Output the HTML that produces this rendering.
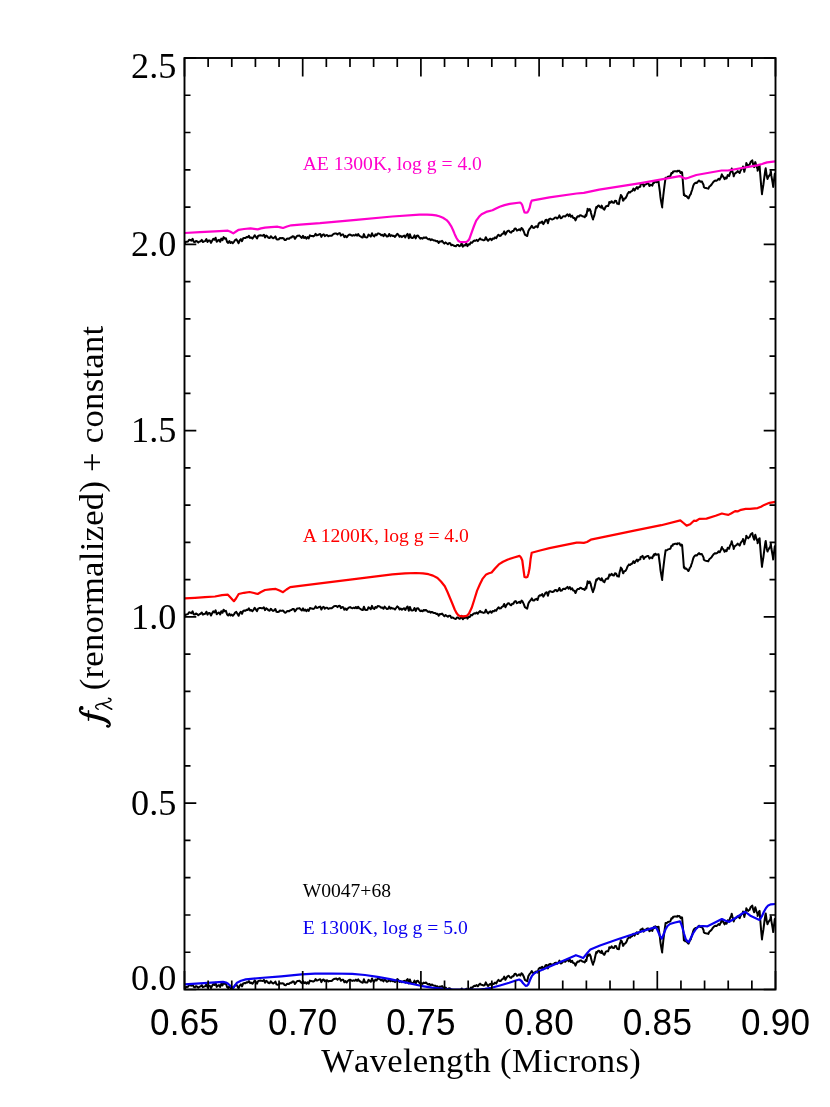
<!DOCTYPE html>
<html><head><meta charset="utf-8"><title>Spectra</title>
<style>
html,body{margin:0;padding:0;background:#fff;}
body{width:830px;height:1107px;overflow:hidden;font-family:"Liberation Serif",serif;}
svg{display:block;will-change:transform}
.sans{font-family:"Liberation Sans",sans-serif;font-size:35.1px;letter-spacing:0.3px;fill:#000}
.serif{font-family:"Liberation Serif",serif;fill:#000}
.big{font-size:36.2px}
.ttl{font-size:34.6px;font-kerning:none;letter-spacing:0.29px}
.lab{font-family:"Liberation Serif",serif;font-size:19.6px}
</style></head><body>
<svg width="830" height="1107" viewBox="0 0 830 1107">
<rect width="830" height="1107" fill="#fff"/>
<defs><clipPath id="c"><rect x="184.5" y="58.0" width="591.0" height="931.5"/></clipPath></defs>
<g clip-path="url(#c)" fill="none" stroke-linejoin="round" stroke-linecap="butt">
<path d="M184.5,244.4 L185.7,241.8 L186.8,241.8 L188.0,241.5 L189.1,239.7 L190.3,240.0 L191.4,240.6 L192.6,238.8 L193.7,241.7 L194.9,242.0 L196.0,240.9 L197.2,241.5 L198.3,242.6 L199.5,241.6 L200.6,241.2 L201.8,239.9 L202.9,242.0 L204.1,241.4 L205.2,241.1 L206.4,239.1 L207.5,242.0 L208.7,240.4 L209.8,240.5 L211.0,242.9 L212.1,240.7 L213.3,238.8 L214.4,239.8 L215.6,237.7 L216.7,241.7 L217.9,240.5 L219.0,239.9 L220.2,241.8 L221.3,238.6 L222.5,240.2 L223.6,237.1 L224.8,238.7 L225.9,238.3 L227.1,241.9 L228.2,242.9 L229.4,241.1 L230.5,242.9 L231.7,242.0 L232.8,243.2 L234.0,241.8 L235.1,240.0 L236.3,239.3 L237.4,241.1 L238.6,243.2 L239.7,240.5 L240.9,239.1 L242.0,241.2 L243.2,238.3 L244.3,237.9 L245.5,238.1 L246.6,237.1 L247.8,237.3 L248.9,235.8 L250.1,237.9 L251.2,237.4 L252.4,238.6 L253.5,237.2 L254.7,235.2 L255.8,236.8 L257.0,238.5 L258.1,236.0 L259.3,235.5 L260.4,235.3 L261.6,235.6 L262.7,235.7 L263.9,234.7 L265.0,237.5 L266.2,235.6 L267.3,236.4 L268.5,237.8 L269.6,238.1 L270.8,236.2 L271.9,237.4 L273.1,238.3 L274.2,237.7 L275.4,236.4 L276.5,239.2 L277.7,239.5 L278.8,239.2 L280.0,237.9 L281.1,238.3 L282.3,238.0 L283.4,238.2 L284.6,239.9 L285.7,240.1 L286.9,238.7 L288.0,238.5 L289.2,238.7 L290.3,237.6 L291.5,237.5 L292.6,236.3 L293.8,236.4 L294.9,238.8 L296.1,237.2 L297.2,235.8 L298.4,235.8 L299.5,235.5 L300.7,237.0 L301.8,237.9 L303.0,235.8 L304.1,238.0 L305.3,237.0 L306.4,238.6 L307.6,237.0 L308.7,238.4 L309.9,235.4 L311.0,235.9 L312.2,236.0 L313.3,236.4 L314.5,235.7 L315.6,233.8 L316.8,235.4 L317.9,235.0 L319.1,234.4 L320.2,234.0 L321.4,236.9 L322.5,234.8 L323.7,234.3 L324.8,236.1 L326.0,235.2 L327.1,235.1 L328.3,236.3 L329.4,235.7 L330.6,235.7 L331.7,235.7 L332.9,234.6 L334.0,233.7 L335.2,233.5 L336.3,233.4 L337.5,234.5 L338.6,233.4 L339.8,233.1 L340.9,235.6 L342.1,234.5 L343.2,234.6 L344.4,237.1 L345.5,235.9 L346.7,237.3 L347.8,235.8 L349.0,234.8 L350.1,234.5 L351.3,235.3 L352.4,235.7 L353.6,235.1 L354.7,235.6 L355.9,234.4 L357.0,235.7 L358.2,234.1 L359.3,235.8 L360.5,236.3 L361.6,237.2 L362.8,237.5 L363.9,234.1 L365.1,237.1 L366.2,237.4 L367.4,237.2 L368.5,234.6 L369.7,235.5 L370.8,236.6 L372.0,233.3 L373.1,235.7 L374.3,236.4 L375.4,234.4 L376.6,235.2 L377.7,233.4 L378.9,233.6 L380.0,234.1 L381.2,235.2 L382.3,234.8 L383.5,236.2 L384.6,234.0 L385.8,235.3 L386.9,236.5 L388.1,236.2 L389.2,234.0 L390.4,236.1 L391.5,235.2 L392.7,236.0 L393.8,235.8 L395.0,236.9 L396.1,235.4 L397.3,233.8 L398.4,234.7 L399.6,236.8 L400.7,235.9 L401.9,237.1 L403.0,236.2 L404.2,235.6 L405.3,237.4 L406.5,235.1 L407.6,233.9 L408.8,238.2 L409.9,234.3 L411.1,237.6 L412.2,238.0 L413.4,237.5 L414.5,235.4 L415.7,238.4 L416.8,235.8 L418.0,235.6 L419.1,237.1 L420.3,238.6 L421.4,238.0 L422.6,238.7 L423.7,237.4 L424.9,237.9 L426.0,237.3 L427.2,238.5 L428.3,239.3 L429.5,238.8 L430.6,240.1 L431.8,239.3 L432.9,239.9 L434.1,240.5 L435.2,240.5 L436.4,241.3 L437.5,241.1 L438.7,243.0 L439.8,241.4 L441.0,241.6 L442.1,240.9 L443.3,242.5 L444.4,243.6 L445.6,242.4 L446.7,243.3 L447.9,244.2 L449.0,243.1 L450.2,243.2 L451.3,245.3 L452.5,244.8 L453.6,245.5 L454.8,246.1 L455.9,246.3 L457.1,244.9 L458.2,245.0 L459.4,246.2 L460.5,245.7 L461.7,243.3 L462.8,246.7 L464.0,245.2 L465.1,245.5 L466.3,243.5 L467.4,246.1 L468.6,244.3 L469.7,244.4 L470.9,242.3 L472.0,242.8 L473.2,241.4 L474.3,240.6 L475.5,240.8 L476.6,239.9 L477.8,241.1 L478.9,239.6 L480.1,238.4 L481.2,239.6 L482.4,239.7 L483.5,240.3 L484.7,240.0 L485.8,237.2 L487.0,239.5 L488.1,240.8 L489.3,239.4 L490.4,238.7 L491.6,240.2 L492.7,238.4 L493.9,238.8 L495.0,237.4 L496.2,238.2 L497.3,236.2 L498.5,234.7 L499.6,235.9 L500.8,235.7 L501.9,234.2 L503.1,233.7 L504.2,231.4 L505.4,234.6 L506.5,232.5 L507.7,230.9 L508.8,230.6 L510.0,232.1 L511.1,232.7 L512.3,231.1 L513.4,231.1 L514.6,228.8 L515.7,228.5 L516.9,230.6 L518.0,230.1 L519.2,229.2 L520.3,230.4 L521.5,228.0 L522.6,229.0 L523.8,231.5 L524.9,234.6 L526.1,235.4 L527.2,236.0 L528.4,230.9 L529.5,229.0 L530.7,227.6 L531.8,225.8 L533.0,227.8 L534.1,227.9 L535.3,226.7 L536.4,226.2 L537.6,227.4 L538.7,223.6 L539.9,222.6 L541.0,222.8 L542.2,221.5 L543.3,224.1 L544.5,222.2 L545.6,220.0 L546.8,219.7 L547.9,223.2 L549.1,219.1 L550.2,218.6 L551.4,219.2 L552.5,219.4 L553.7,218.9 L554.8,217.7 L556.0,217.4 L557.1,218.6 L558.3,217.6 L559.4,215.4 L560.6,218.2 L561.7,218.0 L562.9,216.4 L564.0,216.1 L565.2,216.6 L566.3,215.3 L567.5,214.3 L568.6,216.1 L569.8,214.4 L570.9,216.8 L572.1,215.6 L573.2,217.9 L574.4,218.1 L575.5,220.4 L576.7,217.5 L577.8,216.3 L579.0,216.5 L580.1,215.2 L581.3,215.4 L582.4,216.3 L583.6,216.5 L584.7,217.3 L585.9,214.5 L586.3,215.7 L586.3,215.9 L587.4,210.0 L587.6,208.7 L588.6,210.6 L589.7,209.0 L590.8,211.4 L590.9,212.7 L592.0,216.5 L593.0,219.5 L593.2,218.5 L594.3,215.6 L595.5,210.1 L596.3,206.9 L596.6,208.0 L597.8,206.0 L598.9,205.5 L600.1,207.1 L601.2,207.7 L601.7,205.6 L602.4,207.2 L603.5,209.1 L604.4,209.6 L604.7,208.8 L605.8,206.5 L607.0,206.0 L608.1,206.1 L608.9,203.8 L609.3,202.0 L610.4,202.8 L611.6,201.2 L612.7,202.6 L613.9,202.9 L615.0,200.7 L616.2,201.0 L616.2,201.4 L617.3,203.7 L618.5,203.6 L618.9,204.1 L619.6,199.6 L620.7,196.0 L620.8,195.0 L621.9,196.3 L623.1,200.7 L623.4,200.5 L624.2,198.6 L625.4,198.4 L626.5,196.6 L627.7,193.5 L628.8,192.4 L628.8,191.9 L630.0,192.5 L631.1,191.4 L632.3,190.9 L633.4,188.6 L634.2,189.7 L634.6,190.4 L635.7,188.5 L636.9,187.0 L637.8,188.8 L638.0,187.9 L639.2,187.0 L640.3,186.7 L640.5,184.6 L641.5,184.2 L642.6,183.3 L643.8,186.4 L644.9,184.6 L646.1,184.2 L647.2,183.4 L648.4,183.4 L648.7,184.3 L649.5,186.0 L650.7,184.8 L651.8,185.0 L652.3,185.7 L653.0,183.6 L654.1,181.6 L654.1,183.0 L655.3,181.1 L656.4,182.2 L657.6,181.8 L658.6,181.6 L658.7,183.1 L659.9,191.9 L660.4,196.9 L661.0,200.8 L662.2,207.4 L662.2,206.0 L663.3,195.5 L664.0,189.7 L664.5,185.6 L665.6,177.7 L665.8,177.9 L666.8,177.7 L667.9,176.8 L669.1,176.5 L670.2,176.2 L670.4,176.1 L671.4,173.1 L672.5,173.2 L673.1,171.6 L673.7,171.7 L674.8,171.2 L676.0,171.2 L677.1,171.6 L677.6,170.7 L678.3,171.0 L679.4,170.7 L680.6,172.9 L681.7,172.0 L682.1,172.5 L682.9,181.9 L683.9,195.1 L684.0,193.8 L685.2,196.1 L686.3,196.0 L687.5,197.3 L688.4,198.4 L688.6,198.3 L689.8,195.4 L690.9,193.9 L691.2,192.4 L692.1,190.0 L693.2,185.9 L693.9,184.3 L694.4,183.7 L695.5,182.7 L696.7,183.0 L697.8,181.7 L699.0,180.5 L699.3,180.7 L700.1,181.7 L701.3,181.5 L702.0,181.6 L702.4,182.5 L703.6,185.0 L703.8,187.0 L704.7,187.8 L705.9,188.1 L707.0,188.3 L708.2,188.4 L708.3,188.8 L709.3,186.6 L710.5,185.7 L711.6,184.5 L712.8,182.7 L713.7,181.6 L713.9,181.4 L715.1,180.6 L716.2,180.8 L717.4,180.2 L718.5,178.8 L719.7,179.7 L720.0,178.9 L720.8,177.6 L721.9,174.4 L722.0,175.3 L723.1,176.5 L724.3,178.5 L724.6,179.2 L725.4,177.6 L726.6,178.5 L727.7,175.1 L728.9,175.9 L729.1,176.1 L730.0,173.1 L731.2,170.8 L731.7,168.6 L732.3,171.1 L733.5,174.7 L733.7,176.3 L734.6,173.8 L735.8,172.9 L736.9,172.1 L737.7,171.0 L738.1,171.4 L739.2,172.4 L739.7,173.0 L740.4,171.0 L741.5,169.1 L742.7,167.9 L743.0,166.4 L743.8,168.9 L744.3,171.7 L745.0,168.7 L746.1,165.2 L746.3,163.1 L747.3,164.9 L748.3,165.7 L748.4,165.1 L749.6,164.6 L750.7,161.8 L751.9,160.9 L752.3,160.4 L753.0,163.8 L754.2,167.1 L754.3,165.7 L755.3,162.1 L755.6,163.1 L756.5,166.4 L757.6,169.0 L757.6,170.7 L758.8,166.5 L759.6,165.7 L759.9,170.1 L761.1,184.9 L762.0,194.2 L762.2,192.0 L763.4,184.5 L764.5,175.8 L765.5,169.0 L765.7,168.3 L766.8,176.1 L767.5,179.0 L768.0,177.6 L769.1,175.8 L770.3,174.1 L770.8,171.0 L771.4,175.9 L772.6,182.6 L773.2,186.9 L773.7,182.8 L774.8,173.7 L774.9,174.1 L775.5,175.4" stroke="#000" stroke-width="2"/>
<path d="M184.5,617.0 L185.7,614.4 L186.8,614.4 L188.0,614.1 L189.1,612.3 L190.3,612.6 L191.4,613.2 L192.6,611.4 L193.7,614.3 L194.9,614.6 L196.0,613.5 L197.2,614.1 L198.3,615.2 L199.5,614.2 L200.6,613.8 L201.8,612.5 L202.9,614.6 L204.1,614.0 L205.2,613.7 L206.4,611.7 L207.5,614.6 L208.7,613.0 L209.8,613.1 L211.0,615.5 L212.1,613.3 L213.3,611.4 L214.4,612.4 L215.6,610.3 L216.7,614.3 L217.9,613.1 L219.0,612.5 L220.2,614.4 L221.3,611.2 L222.5,612.8 L223.6,609.7 L224.8,611.3 L225.9,610.9 L227.1,614.5 L228.2,615.5 L229.4,613.7 L230.5,615.5 L231.7,614.6 L232.8,615.8 L234.0,614.4 L235.1,612.6 L236.3,611.9 L237.4,613.7 L238.6,615.8 L239.7,613.1 L240.9,611.7 L242.0,613.8 L243.2,610.9 L244.3,610.5 L245.5,610.7 L246.6,609.7 L247.8,609.9 L248.9,608.4 L250.1,610.5 L251.2,610.0 L252.4,611.2 L253.5,609.8 L254.7,607.8 L255.8,609.4 L257.0,611.1 L258.1,608.6 L259.3,608.1 L260.4,607.9 L261.6,608.2 L262.7,608.3 L263.9,607.3 L265.0,610.1 L266.2,608.2 L267.3,609.0 L268.5,610.4 L269.6,610.7 L270.8,608.8 L271.9,610.0 L273.1,610.9 L274.2,610.3 L275.4,609.0 L276.5,611.8 L277.7,612.1 L278.8,611.8 L280.0,610.5 L281.1,610.9 L282.3,610.6 L283.4,610.8 L284.6,612.5 L285.7,612.7 L286.9,611.3 L288.0,611.1 L289.2,611.3 L290.3,610.2 L291.5,610.1 L292.6,608.9 L293.8,609.0 L294.9,611.4 L296.1,609.8 L297.2,608.4 L298.4,608.4 L299.5,608.1 L300.7,609.6 L301.8,610.5 L303.0,608.4 L304.1,610.6 L305.3,609.6 L306.4,611.2 L307.6,609.6 L308.7,611.0 L309.9,608.0 L311.0,608.5 L312.2,608.6 L313.3,609.0 L314.5,608.3 L315.6,606.4 L316.8,608.0 L317.9,607.6 L319.1,607.0 L320.2,606.6 L321.4,609.5 L322.5,607.4 L323.7,606.9 L324.8,608.7 L326.0,607.8 L327.1,607.7 L328.3,608.9 L329.4,608.3 L330.6,608.3 L331.7,608.3 L332.9,607.2 L334.0,606.3 L335.2,606.1 L336.3,606.0 L337.5,607.1 L338.6,606.0 L339.8,605.7 L340.9,608.2 L342.1,607.1 L343.2,607.2 L344.4,609.7 L345.5,608.5 L346.7,609.9 L347.8,608.4 L349.0,607.4 L350.1,607.1 L351.3,607.9 L352.4,608.3 L353.6,607.7 L354.7,608.2 L355.9,607.0 L357.0,608.3 L358.2,606.7 L359.3,608.4 L360.5,608.9 L361.6,609.8 L362.8,610.1 L363.9,606.7 L365.1,609.7 L366.2,610.0 L367.4,609.8 L368.5,607.2 L369.7,608.1 L370.8,609.2 L372.0,605.9 L373.1,608.3 L374.3,609.0 L375.4,607.0 L376.6,607.8 L377.7,606.0 L378.9,606.2 L380.0,606.7 L381.2,607.8 L382.3,607.4 L383.5,608.8 L384.6,606.6 L385.8,607.9 L386.9,609.1 L388.1,608.8 L389.2,606.6 L390.4,608.7 L391.5,607.8 L392.7,608.6 L393.8,608.4 L395.0,609.5 L396.1,608.0 L397.3,606.4 L398.4,607.3 L399.6,609.4 L400.7,608.5 L401.9,609.7 L403.0,608.8 L404.2,608.2 L405.3,610.0 L406.5,607.7 L407.6,606.5 L408.8,610.8 L409.9,606.9 L411.1,610.2 L412.2,610.6 L413.4,610.1 L414.5,608.0 L415.7,611.0 L416.8,608.4 L418.0,608.2 L419.1,609.7 L420.3,611.2 L421.4,610.6 L422.6,611.3 L423.7,610.0 L424.9,610.5 L426.0,609.9 L427.2,611.1 L428.3,611.9 L429.5,611.4 L430.6,612.7 L431.8,611.9 L432.9,612.5 L434.1,613.1 L435.2,613.1 L436.4,613.9 L437.5,613.7 L438.7,615.6 L439.8,614.0 L441.0,614.2 L442.1,613.5 L443.3,615.1 L444.4,616.2 L445.6,615.0 L446.7,615.9 L447.9,616.8 L449.0,615.7 L450.2,615.8 L451.3,617.9 L452.5,617.4 L453.6,618.1 L454.8,618.7 L455.9,618.9 L457.1,617.5 L458.2,617.6 L459.4,618.8 L460.5,618.3 L461.7,615.9 L462.8,619.3 L464.0,617.8 L465.1,618.1 L466.3,616.1 L467.4,618.7 L468.6,616.9 L469.7,617.0 L470.9,614.9 L472.0,615.4 L473.2,614.0 L474.3,613.2 L475.5,613.4 L476.6,612.5 L477.8,613.7 L478.9,612.2 L480.1,611.0 L481.2,612.2 L482.4,612.3 L483.5,612.9 L484.7,612.6 L485.8,609.8 L487.0,612.1 L488.1,613.4 L489.3,612.0 L490.4,611.3 L491.6,612.8 L492.7,611.0 L493.9,611.4 L495.0,610.0 L496.2,610.8 L497.3,608.8 L498.5,607.3 L499.6,608.5 L500.8,608.3 L501.9,606.8 L503.1,606.3 L504.2,604.0 L505.4,607.2 L506.5,605.1 L507.7,603.5 L508.8,603.2 L510.0,604.7 L511.1,605.3 L512.3,603.7 L513.4,603.7 L514.6,601.4 L515.7,601.1 L516.9,603.2 L518.0,602.7 L519.2,601.8 L520.3,603.0 L521.5,600.6 L522.6,601.6 L523.8,604.1 L524.9,607.2 L526.1,608.0 L527.2,608.6 L528.4,603.5 L529.5,601.6 L530.7,600.2 L531.8,598.4 L533.0,600.4 L534.1,600.5 L535.3,599.3 L536.4,598.8 L537.6,600.0 L538.7,596.2 L539.9,595.2 L541.0,595.4 L542.2,594.1 L543.3,596.7 L544.5,594.8 L545.6,592.6 L546.8,592.3 L547.9,595.8 L549.1,591.7 L550.2,591.2 L551.4,591.8 L552.5,592.0 L553.7,591.5 L554.8,590.3 L556.0,590.0 L557.1,591.2 L558.3,590.2 L559.4,588.0 L560.6,590.8 L561.7,590.6 L562.9,589.0 L564.0,588.7 L565.2,589.2 L566.3,587.9 L567.5,586.9 L568.6,588.7 L569.8,587.0 L570.9,589.4 L572.1,588.2 L573.2,590.5 L574.4,590.7 L575.5,593.0 L576.7,590.1 L577.8,588.9 L579.0,589.1 L580.1,587.8 L581.3,588.0 L582.4,588.9 L583.6,589.1 L584.7,589.9 L585.9,587.1 L586.3,588.3 L586.3,588.5 L587.4,582.6 L587.6,581.3 L588.6,583.2 L589.7,581.6 L590.8,584.0 L590.9,585.3 L592.0,589.1 L593.0,592.1 L593.2,591.1 L594.3,588.2 L595.5,582.7 L596.3,579.5 L596.6,580.6 L597.8,578.6 L598.9,578.1 L600.1,579.7 L601.2,580.3 L601.7,578.2 L602.4,579.8 L603.5,581.7 L604.4,582.2 L604.7,581.4 L605.8,579.1 L607.0,578.6 L608.1,578.7 L608.9,576.4 L609.3,574.6 L610.4,575.4 L611.6,573.8 L612.7,575.2 L613.9,575.5 L615.0,573.3 L616.2,573.6 L616.2,574.0 L617.3,576.3 L618.5,576.2 L618.9,576.7 L619.6,572.2 L620.7,568.6 L620.8,567.6 L621.9,568.9 L623.1,573.3 L623.4,573.1 L624.2,571.2 L625.4,571.0 L626.5,569.2 L627.7,566.1 L628.8,565.0 L628.8,564.5 L630.0,565.1 L631.1,564.0 L632.3,563.5 L633.4,561.2 L634.2,562.3 L634.6,563.0 L635.7,561.1 L636.9,559.6 L637.8,561.4 L638.0,560.5 L639.2,559.6 L640.3,559.3 L640.5,557.2 L641.5,556.8 L642.6,555.9 L643.8,559.0 L644.9,557.2 L646.1,556.8 L647.2,556.0 L648.4,556.0 L648.7,556.9 L649.5,558.6 L650.7,557.4 L651.8,557.6 L652.3,558.3 L653.0,556.2 L654.1,554.2 L654.1,555.6 L655.3,553.7 L656.4,554.8 L657.6,554.4 L658.6,554.2 L658.7,555.7 L659.9,564.5 L660.4,569.5 L661.0,573.4 L662.2,580.0 L662.2,578.6 L663.3,568.1 L664.0,562.3 L664.5,558.2 L665.6,550.3 L665.8,550.5 L666.8,550.3 L667.9,549.4 L669.1,549.1 L670.2,548.8 L670.4,548.7 L671.4,545.7 L672.5,545.8 L673.1,544.2 L673.7,544.3 L674.8,543.8 L676.0,543.8 L677.1,544.2 L677.6,543.3 L678.3,543.6 L679.4,543.3 L680.6,545.5 L681.7,544.6 L682.1,545.1 L682.9,554.5 L683.9,567.7 L684.0,566.4 L685.2,568.7 L686.3,568.6 L687.5,569.9 L688.4,571.0 L688.6,570.9 L689.8,568.0 L690.9,566.5 L691.2,565.0 L692.1,562.6 L693.2,558.5 L693.9,556.9 L694.4,556.3 L695.5,555.3 L696.7,555.6 L697.8,554.3 L699.0,553.1 L699.3,553.3 L700.1,554.3 L701.3,554.1 L702.0,554.2 L702.4,555.1 L703.6,557.6 L703.8,559.6 L704.7,560.4 L705.9,560.7 L707.0,560.9 L708.2,561.0 L708.3,561.4 L709.3,559.2 L710.5,558.3 L711.6,557.1 L712.8,555.3 L713.7,554.2 L713.9,554.0 L715.1,553.2 L716.2,553.4 L717.4,552.8 L718.5,551.4 L719.7,552.3 L720.0,551.5 L720.8,550.2 L721.9,547.0 L722.0,547.9 L723.1,549.1 L724.3,551.1 L724.6,551.8 L725.4,550.2 L726.6,551.1 L727.7,547.7 L728.9,548.5 L729.1,548.7 L730.0,545.7 L731.2,543.4 L731.7,541.2 L732.3,543.7 L733.5,547.3 L733.7,548.9 L734.6,546.4 L735.8,545.5 L736.9,544.7 L737.7,543.6 L738.1,544.0 L739.2,545.0 L739.7,545.6 L740.4,543.6 L741.5,541.7 L742.7,540.5 L743.0,539.0 L743.8,541.5 L744.3,544.3 L745.0,541.3 L746.1,537.8 L746.3,535.7 L747.3,537.5 L748.3,538.3 L748.4,537.7 L749.6,537.2 L750.7,534.4 L751.9,533.5 L752.3,533.0 L753.0,536.4 L754.2,539.7 L754.3,538.3 L755.3,534.7 L755.6,535.7 L756.5,539.0 L757.6,541.6 L757.6,543.3 L758.8,539.1 L759.6,538.3 L759.9,542.7 L761.1,557.5 L762.0,566.8 L762.2,564.6 L763.4,557.1 L764.5,548.4 L765.5,541.6 L765.7,540.9 L766.8,548.7 L767.5,551.6 L768.0,550.2 L769.1,548.4 L770.3,546.7 L770.8,543.6 L771.4,548.5 L772.6,555.2 L773.2,559.5 L773.7,555.4 L774.8,546.3 L774.9,546.7 L775.5,548.0" stroke="#000" stroke-width="2"/>
<path d="M184.5,989.6 L185.7,987.0 L186.8,987.0 L188.0,986.7 L189.1,984.9 L190.3,985.2 L191.4,985.8 L192.6,984.0 L193.7,986.9 L194.9,987.2 L196.0,986.1 L197.2,986.7 L198.3,987.8 L199.5,986.8 L200.6,986.4 L201.8,985.1 L202.9,987.2 L204.1,986.6 L205.2,986.3 L206.4,984.3 L207.5,987.2 L208.7,985.6 L209.8,985.7 L211.0,988.1 L212.1,985.9 L213.3,984.0 L214.4,985.0 L215.6,982.9 L216.7,986.9 L217.9,985.7 L219.0,985.1 L220.2,987.0 L221.3,983.8 L222.5,985.4 L223.6,982.3 L224.8,983.9 L225.9,983.5 L227.1,987.1 L228.2,988.1 L229.4,986.3 L230.5,988.1 L231.7,987.2 L232.8,988.4 L234.0,987.0 L235.1,985.2 L236.3,984.5 L237.4,986.3 L238.6,988.4 L239.7,985.7 L240.9,984.3 L242.0,986.4 L243.2,983.5 L244.3,983.1 L245.5,983.3 L246.6,982.3 L247.8,982.5 L248.9,981.0 L250.1,983.1 L251.2,982.6 L252.4,983.8 L253.5,982.4 L254.7,980.4 L255.8,982.0 L257.0,983.7 L258.1,981.2 L259.3,980.7 L260.4,980.5 L261.6,980.8 L262.7,980.9 L263.9,979.9 L265.0,982.7 L266.2,980.8 L267.3,981.6 L268.5,983.0 L269.6,983.3 L270.8,981.4 L271.9,982.6 L273.1,983.5 L274.2,982.9 L275.4,981.6 L276.5,984.4 L277.7,984.7 L278.8,984.4 L280.0,983.1 L281.1,983.5 L282.3,983.2 L283.4,983.4 L284.6,985.1 L285.7,985.3 L286.9,983.9 L288.0,983.7 L289.2,983.9 L290.3,982.8 L291.5,982.7 L292.6,981.5 L293.8,981.6 L294.9,984.0 L296.1,982.4 L297.2,981.0 L298.4,981.0 L299.5,980.7 L300.7,982.2 L301.8,983.1 L303.0,981.0 L304.1,983.2 L305.3,982.2 L306.4,983.8 L307.6,982.2 L308.7,983.6 L309.9,980.6 L311.0,981.1 L312.2,981.2 L313.3,981.6 L314.5,980.9 L315.6,979.0 L316.8,980.6 L317.9,980.2 L319.1,979.6 L320.2,979.2 L321.4,982.1 L322.5,980.0 L323.7,979.5 L324.8,981.3 L326.0,980.4 L327.1,980.3 L328.3,981.5 L329.4,980.9 L330.6,980.9 L331.7,980.9 L332.9,979.8 L334.0,978.9 L335.2,978.7 L336.3,978.6 L337.5,979.7 L338.6,978.6 L339.8,978.3 L340.9,980.8 L342.1,979.7 L343.2,979.8 L344.4,982.3 L345.5,981.1 L346.7,982.5 L347.8,981.0 L349.0,980.0 L350.1,979.7 L351.3,980.5 L352.4,980.9 L353.6,980.3 L354.7,980.8 L355.9,979.6 L357.0,980.9 L358.2,979.3 L359.3,981.0 L360.5,981.5 L361.6,982.4 L362.8,982.7 L363.9,979.3 L365.1,982.3 L366.2,982.6 L367.4,982.4 L368.5,979.8 L369.7,980.7 L370.8,981.8 L372.0,978.5 L373.1,980.9 L374.3,981.6 L375.4,979.6 L376.6,980.4 L377.7,978.6 L378.9,978.8 L380.0,979.3 L381.2,980.4 L382.3,980.0 L383.5,981.4 L384.6,979.2 L385.8,980.5 L386.9,981.7 L388.1,981.4 L389.2,979.2 L390.4,981.3 L391.5,980.4 L392.7,981.2 L393.8,981.0 L395.0,982.1 L396.1,980.6 L397.3,979.0 L398.4,979.9 L399.6,982.0 L400.7,981.1 L401.9,982.3 L403.0,981.4 L404.2,980.8 L405.3,982.6 L406.5,980.3 L407.6,979.1 L408.8,983.4 L409.9,979.5 L411.1,982.8 L412.2,983.2 L413.4,982.7 L414.5,980.6 L415.7,983.6 L416.8,981.0 L418.0,980.8 L419.1,982.3 L420.3,983.8 L421.4,983.2 L422.6,983.9 L423.7,982.6 L424.9,983.1 L426.0,982.5 L427.2,983.7 L428.3,984.5 L429.5,984.0 L430.6,985.3 L431.8,984.5 L432.9,985.1 L434.1,985.7 L435.2,985.7 L436.4,986.5 L437.5,986.3 L438.7,988.2 L439.8,986.6 L441.0,986.8 L442.1,986.1 L443.3,987.7 L444.4,988.8 L445.6,987.6 L446.7,988.5 L447.9,989.4 L449.0,988.3 L450.2,988.4 L451.3,990.5 L452.5,990.0 L453.6,990.7 L454.8,991.3 L455.9,991.5 L457.1,990.1 L458.2,990.2 L459.4,991.4 L460.5,990.9 L461.7,988.5 L462.8,991.9 L464.0,990.4 L465.1,990.7 L466.3,988.7 L467.4,991.3 L468.6,989.5 L469.7,989.6 L470.9,987.5 L472.0,988.0 L473.2,986.6 L474.3,985.8 L475.5,986.0 L476.6,985.1 L477.8,986.3 L478.9,984.8 L480.1,983.6 L481.2,984.8 L482.4,984.9 L483.5,985.5 L484.7,985.2 L485.8,982.4 L487.0,984.7 L488.1,986.0 L489.3,984.6 L490.4,983.9 L491.6,985.4 L492.7,983.6 L493.9,984.0 L495.0,982.6 L496.2,983.4 L497.3,981.4 L498.5,979.9 L499.6,981.1 L500.8,980.9 L501.9,979.4 L503.1,978.9 L504.2,976.6 L505.4,979.8 L506.5,977.7 L507.7,976.1 L508.8,975.8 L510.0,977.3 L511.1,977.9 L512.3,976.3 L513.4,976.3 L514.6,974.0 L515.7,973.7 L516.9,975.8 L518.0,975.3 L519.2,974.4 L520.3,975.6 L521.5,973.2 L522.6,974.2 L523.8,976.7 L524.9,979.8 L526.1,980.6 L527.2,981.2 L528.4,976.1 L529.5,974.2 L530.7,972.8 L531.8,971.0 L533.0,973.0 L534.1,973.1 L535.3,971.9 L536.4,971.4 L537.6,972.6 L538.7,968.8 L539.9,967.8 L541.0,968.0 L542.2,966.7 L543.3,969.3 L544.5,967.4 L545.6,965.2 L546.8,964.9 L547.9,968.4 L549.1,964.3 L550.2,963.8 L551.4,964.4 L552.5,964.6 L553.7,964.1 L554.8,962.9 L556.0,962.6 L557.1,963.8 L558.3,962.8 L559.4,960.6 L560.6,963.4 L561.7,963.2 L562.9,961.6 L564.0,961.3 L565.2,961.8 L566.3,960.5 L567.5,959.5 L568.6,961.3 L569.8,959.6 L570.9,962.0 L572.1,960.8 L573.2,963.1 L574.4,963.3 L575.5,965.6 L576.7,962.7 L577.8,961.5 L579.0,961.7 L580.1,960.4 L581.3,960.6 L582.4,961.5 L583.6,961.7 L584.7,962.5 L585.9,959.7 L586.3,960.9 L586.3,961.1 L587.4,955.2 L587.6,953.9 L588.6,955.8 L589.7,954.2 L590.8,956.6 L590.9,957.9 L592.0,961.7 L593.0,964.7 L593.2,963.7 L594.3,960.8 L595.5,955.3 L596.3,952.1 L596.6,953.2 L597.8,951.2 L598.9,950.7 L600.1,952.3 L601.2,952.9 L601.7,950.8 L602.4,952.4 L603.5,954.3 L604.4,954.8 L604.7,954.0 L605.8,951.7 L607.0,951.2 L608.1,951.3 L608.9,949.0 L609.3,947.2 L610.4,948.0 L611.6,946.4 L612.7,947.8 L613.9,948.1 L615.0,945.9 L616.2,946.2 L616.2,946.6 L617.3,948.9 L618.5,948.8 L618.9,949.3 L619.6,944.8 L620.7,941.2 L620.8,940.2 L621.9,941.5 L623.1,945.9 L623.4,945.7 L624.2,943.8 L625.4,943.6 L626.5,941.8 L627.7,938.7 L628.8,937.6 L628.8,937.1 L630.0,937.7 L631.1,936.6 L632.3,936.1 L633.4,933.8 L634.2,934.9 L634.6,935.6 L635.7,933.7 L636.9,932.2 L637.8,934.0 L638.0,933.1 L639.2,932.2 L640.3,931.9 L640.5,929.8 L641.5,929.4 L642.6,928.5 L643.8,931.6 L644.9,929.8 L646.1,929.4 L647.2,928.6 L648.4,928.6 L648.7,929.5 L649.5,931.2 L650.7,930.0 L651.8,930.2 L652.3,930.9 L653.0,928.8 L654.1,926.8 L654.1,928.2 L655.3,926.3 L656.4,927.4 L657.6,927.0 L658.6,926.8 L658.7,928.3 L659.9,937.1 L660.4,942.1 L661.0,946.0 L662.2,952.6 L662.2,951.2 L663.3,940.7 L664.0,934.9 L664.5,930.8 L665.6,922.9 L665.8,923.1 L666.8,922.9 L667.9,922.0 L669.1,921.7 L670.2,921.4 L670.4,921.3 L671.4,918.3 L672.5,918.4 L673.1,916.8 L673.7,916.9 L674.8,916.4 L676.0,916.4 L677.1,916.8 L677.6,915.9 L678.3,916.2 L679.4,915.9 L680.6,918.1 L681.7,917.2 L682.1,917.7 L682.9,927.1 L683.9,940.3 L684.0,939.0 L685.2,941.3 L686.3,941.2 L687.5,942.5 L688.4,943.6 L688.6,943.5 L689.8,940.6 L690.9,939.1 L691.2,937.6 L692.1,935.2 L693.2,931.1 L693.9,929.5 L694.4,928.9 L695.5,927.9 L696.7,928.2 L697.8,926.9 L699.0,925.7 L699.3,925.9 L700.1,926.9 L701.3,926.7 L702.0,926.8 L702.4,927.7 L703.6,930.2 L703.8,932.2 L704.7,933.0 L705.9,933.3 L707.0,933.5 L708.2,933.6 L708.3,934.0 L709.3,931.8 L710.5,930.9 L711.6,929.7 L712.8,927.9 L713.7,926.8 L713.9,926.6 L715.1,925.8 L716.2,926.0 L717.4,925.4 L718.5,924.0 L719.7,924.9 L720.0,924.1 L720.8,922.8 L721.9,919.6 L722.0,920.5 L723.1,921.7 L724.3,923.7 L724.6,924.4 L725.4,922.8 L726.6,923.7 L727.7,920.3 L728.9,921.1 L729.1,921.3 L730.0,918.3 L731.2,916.0 L731.7,913.8 L732.3,916.3 L733.5,919.9 L733.7,921.5 L734.6,919.0 L735.8,918.1 L736.9,917.3 L737.7,916.2 L738.1,916.6 L739.2,917.6 L739.7,918.2 L740.4,916.2 L741.5,914.3 L742.7,913.1 L743.0,911.6 L743.8,914.1 L744.3,916.9 L745.0,913.9 L746.1,910.4 L746.3,908.3 L747.3,910.1 L748.3,910.9 L748.4,910.3 L749.6,909.8 L750.7,907.0 L751.9,906.1 L752.3,905.6 L753.0,909.0 L754.2,912.3 L754.3,910.9 L755.3,907.3 L755.6,908.3 L756.5,911.6 L757.6,914.2 L757.6,915.9 L758.8,911.7 L759.6,910.9 L759.9,915.3 L761.1,930.1 L762.0,939.4 L762.2,937.2 L763.4,929.7 L764.5,921.0 L765.5,914.2 L765.7,913.5 L766.8,921.3 L767.5,924.2 L768.0,922.8 L769.1,921.0 L770.3,919.3 L770.8,916.2 L771.4,921.1 L772.6,927.8 L773.2,932.1 L773.7,928.0 L774.8,918.9 L774.9,919.3 L775.5,920.6" stroke="#000" stroke-width="2"/>
<path d="M184.5,233.0 L200.0,232.2 L215.0,231.3 L227.9,230.7 L230.5,231.8 L233.3,233.4 L236.0,231.5 L238.7,229.8 L244.0,229.0 L250.5,228.3 L254.0,228.8 L257.7,229.4 L261.0,228.4 L265.0,227.6 L271.0,227.1 L277.6,226.7 L280.5,227.4 L283.0,228.0 L287.0,226.5 L291.2,225.3 L300.0,224.6 L320.0,223.2 L356.2,219.8 L392.3,216.5 L419.5,214.7 L427.0,214.6 L432.1,214.9 L436.0,215.4 L439.3,216.2 L443.0,217.8 L446.6,220.1 L449.0,222.8 L451.1,226.1 L453.0,230.0 L454.7,234.2 L456.5,238.0 L458.3,240.8 L459.7,241.7 L461.0,242.0 L463.6,242.1 L466.5,242.0 L468.1,240.7 L469.2,239.3 L471.7,232.3 L474.0,226.0 L476.2,220.6 L479.0,216.8 L481.6,214.2 L486.2,211.9 L492.5,210.3 L496.0,208.5 L499.7,206.7 L504.5,205.1 L509.7,203.9 L520.2,202.5 L521.3,203.5 L522.3,205.2 L523.4,209.0 L524.5,212.4 L526.0,212.7 L527.4,212.4 L528.5,210.5 L529.6,207.9 L530.6,203.5 L531.7,200.7 L549.5,197.4 L576.6,193.5 L583.8,192.9 L599.2,189.7 L640.6,183.1 L679.8,176.1 L682.5,177.5 L685.6,178.6 L688.5,177.8 L691.2,176.8 L696.3,175.0 L721.6,170.5 L727.9,170.5 L757.0,165.4 L762.0,164.0 L767.1,162.4 L775.5,161.4" stroke="#ff00cc" stroke-width="2.2"/>
<path d="M184.5,598.3 L195.0,597.8 L205.0,597.2 L215.0,596.5 L222.0,595.2 L227.9,594.7 L230.5,597.5 L233.9,601.2 L236.0,598.5 L238.7,594.0 L244.0,592.8 L249.6,592.0 L254.0,593.0 L257.7,594.0 L261.0,592.0 L265.0,590.0 L270.0,589.4 L275.8,588.9 L279.5,590.5 L283.0,592.2 L286.5,589.5 L290.2,587.1 L300.0,585.8 L320.0,583.4 L356.2,578.9 L392.3,574.4 L405.0,573.3 L415.8,573.0 L423.0,573.3 L428.5,574.2 L433.0,575.6 L437.5,578.0 L441.0,581.5 L444.8,586.2 L447.5,592.0 L450.2,598.5 L452.5,604.0 L454.7,609.5 L456.5,613.0 L458.3,615.2 L460.5,616.2 L462.8,616.4 L465.0,616.2 L467.3,615.5 L469.0,613.5 L471.7,607.8 L474.5,599.0 L477.1,590.6 L480.0,584.0 L482.5,578.9 L486.2,574.4 L489.0,573.3 L491.6,572.5 L495.0,568.5 L498.8,564.4 L503.0,561.8 L507.9,559.5 L514.0,557.5 L519.6,555.9 L521.0,557.5 L522.3,560.5 L523.4,569.0 L524.5,577.0 L526.0,577.3 L527.4,577.0 L528.5,573.5 L529.6,568.0 L530.6,559.0 L531.7,552.7 L540.0,550.5 L549.5,548.1 L563.0,545.4 L576.6,542.7 L580.0,542.7 L583.8,542.9 L587.0,542.0 L590.8,539.7 L616.2,534.3 L634.2,530.7 L661.3,525.2 L680.3,520.4 L683.5,523.0 L686.6,525.6 L690.2,524.3 L693.9,520.7 L696.0,521.0 L699.3,518.9 L706.5,518.6 L715.6,515.8 L721.9,513.5 L725.0,514.2 L728.4,514.9 L731.5,513.2 L735.1,511.1 L738.0,511.3 L741.0,509.8 L745.7,508.8 L750.0,508.9 L757.6,508.1 L761.0,506.7 L764.2,504.9 L769.5,502.8 L775.5,501.9" stroke="#ff0000" stroke-width="2.2"/>
<path d="M184.5,984.4 L200.0,983.4 L215.0,982.4 L223.0,981.9 L226.0,982.5 L228.1,983.7 L230.5,986.0 L232.7,988.2 L235.0,985.5 L237.0,982.7 L241.0,980.7 L245.8,979.4 L260.0,978.0 L281.3,976.3 L301.5,974.3 L315.0,973.7 L331.9,973.5 L352.2,973.8 L365.0,975.0 L377.5,976.8 L390.0,979.2 L400.4,981.3 L420.6,985.8 L432.0,987.6 L443.4,988.9 L453.5,989.5 L478.8,989.5 L485.0,988.8 L491.5,987.8 L500.0,985.5 L509.2,982.8 L515.0,980.8 L519.3,979.5 L521.5,981.0 L523.1,983.3 L525.6,985.8 L527.0,985.6 L528.2,984.5 L530.0,980.0 L532.0,975.7 L534.5,973.3 L537.0,971.9 L552.2,965.6 L565.0,960.0 L575.9,955.2 L579.5,956.5 L583.1,958.1 L586.5,954.0 L590.4,949.4 L600.0,945.5 L617.8,939.3 L636.0,933.2 L655.4,927.1 L657.0,929.0 L658.3,932.0 L660.0,936.0 L661.8,938.7 L663.5,934.5 L665.6,929.2 L667.5,926.0 L669.9,924.0 L675.0,922.5 L680.0,921.4 L681.0,923.5 L682.0,926.3 L684.0,933.5 L685.8,939.3 L687.3,941.2 L688.7,942.2 L690.8,938.0 L693.0,933.5 L696.0,929.0 L698.8,926.3 L703.0,926.0 L707.5,926.3 L714.0,923.0 L721.9,919.0 L725.5,920.8 L729.2,921.9 L737.0,917.0 L745.1,911.8 L748.0,913.8 L750.9,916.1 L759.5,919.9 L761.8,916.5 L763.9,911.8 L766.0,908.0 L768.2,905.4 L771.0,904.3 L775.5,904.0" stroke="#0a00f0" stroke-width="2.2"/>
</g>
<path d="M184.50,989.5 v-18.5 M184.50,58.0 v18.5 M208.14,989.5 v-9.0 M208.14,58.0 v9.0 M231.78,989.5 v-9.0 M231.78,58.0 v9.0 M255.42,989.5 v-9.0 M255.42,58.0 v9.0 M279.06,989.5 v-9.0 M279.06,58.0 v9.0 M302.70,989.5 v-18.5 M302.70,58.0 v18.5 M326.34,989.5 v-9.0 M326.34,58.0 v9.0 M349.98,989.5 v-9.0 M349.98,58.0 v9.0 M373.62,989.5 v-9.0 M373.62,58.0 v9.0 M397.26,989.5 v-9.0 M397.26,58.0 v9.0 M420.90,989.5 v-18.5 M420.90,58.0 v18.5 M444.54,989.5 v-9.0 M444.54,58.0 v9.0 M468.18,989.5 v-9.0 M468.18,58.0 v9.0 M491.82,989.5 v-9.0 M491.82,58.0 v9.0 M515.46,989.5 v-9.0 M515.46,58.0 v9.0 M539.10,989.5 v-18.5 M539.10,58.0 v18.5 M562.74,989.5 v-9.0 M562.74,58.0 v9.0 M586.38,989.5 v-9.0 M586.38,58.0 v9.0 M610.02,989.5 v-9.0 M610.02,58.0 v9.0 M633.66,989.5 v-9.0 M633.66,58.0 v9.0 M657.30,989.5 v-18.5 M657.30,58.0 v18.5 M680.94,989.5 v-9.0 M680.94,58.0 v9.0 M704.58,989.5 v-9.0 M704.58,58.0 v9.0 M728.22,989.5 v-9.0 M728.22,58.0 v9.0 M751.86,989.5 v-9.0 M751.86,58.0 v9.0 M775.50,989.5 v-18.5 M775.50,58.0 v18.5 M184.5,989.50 h11.8 M775.5,989.50 h-11.8 M184.5,952.24 h6.0 M775.5,952.24 h-6.0 M184.5,914.98 h6.0 M775.5,914.98 h-6.0 M184.5,877.72 h6.0 M775.5,877.72 h-6.0 M184.5,840.46 h6.0 M775.5,840.46 h-6.0 M184.5,803.20 h11.8 M775.5,803.20 h-11.8 M184.5,765.94 h6.0 M775.5,765.94 h-6.0 M184.5,728.68 h6.0 M775.5,728.68 h-6.0 M184.5,691.42 h6.0 M775.5,691.42 h-6.0 M184.5,654.16 h6.0 M775.5,654.16 h-6.0 M184.5,616.90 h11.8 M775.5,616.90 h-11.8 M184.5,579.64 h6.0 M775.5,579.64 h-6.0 M184.5,542.38 h6.0 M775.5,542.38 h-6.0 M184.5,505.12 h6.0 M775.5,505.12 h-6.0 M184.5,467.86 h6.0 M775.5,467.86 h-6.0 M184.5,430.60 h11.8 M775.5,430.60 h-11.8 M184.5,393.34 h6.0 M775.5,393.34 h-6.0 M184.5,356.08 h6.0 M775.5,356.08 h-6.0 M184.5,318.82 h6.0 M775.5,318.82 h-6.0 M184.5,281.56 h6.0 M775.5,281.56 h-6.0 M184.5,244.30 h11.8 M775.5,244.30 h-11.8 M184.5,207.04 h6.0 M775.5,207.04 h-6.0 M184.5,169.78 h6.0 M775.5,169.78 h-6.0 M184.5,132.52 h6.0 M775.5,132.52 h-6.0 M184.5,95.26 h6.0 M775.5,95.26 h-6.0 M184.5,58.00 h11.8 M775.5,58.00 h-11.8" stroke="#000" stroke-width="1.7" fill="none"/>
<rect x="184.5" y="58.0" width="591.0" height="931.5" fill="none" stroke="#000" stroke-width="1.9"/>
<text transform="translate(184.65,1034.9) scale(1,1.075)" x="0" y="0" text-anchor="middle" class="sans">0.65</text>
<text transform="translate(302.85,1034.9) scale(1,1.075)" x="0" y="0" text-anchor="middle" class="sans">0.70</text>
<text transform="translate(421.05,1034.9) scale(1,1.075)" x="0" y="0" text-anchor="middle" class="sans">0.75</text>
<text transform="translate(539.25,1034.9) scale(1,1.075)" x="0" y="0" text-anchor="middle" class="sans">0.80</text>
<text transform="translate(657.45,1034.9) scale(1,1.075)" x="0" y="0" text-anchor="middle" class="sans">0.85</text>
<text transform="translate(775.65,1034.9) scale(1,1.075)" x="0" y="0" text-anchor="middle" class="sans">0.90</text>
<text x="176.3" y="78.4" text-anchor="end" class="serif big">2.5</text>
<text x="176.3" y="256.0" text-anchor="end" class="serif big">2.0</text>
<text x="176.3" y="442.3" text-anchor="end" class="serif big">1.5</text>
<text x="176.3" y="628.6" text-anchor="end" class="serif big">1.0</text>
<text x="176.3" y="814.9" text-anchor="end" class="serif big">0.5</text>
<text x="176.3" y="990.3" text-anchor="end" class="serif big">0.0</text>

<text x="302.7" y="169.6" class="lab" fill="#ff00cc">AE 1300K, log g = 4.0</text>
<text x="302.7" y="542.4" class="lab" fill="#ff0000">A 1200K, log g = 4.0</text>
<text x="302.7" y="896.6" class="lab" fill="#000">W0047+68</text>
<text x="302.7" y="933.8" class="lab" fill="#0a00f0">E 1300K, log g = 5.0</text>
<text x="321.2" y="1071.8" class="serif ttl">Wavelength (Microns)</text>
<path d="M 83.33 707.15 C 82.99 706.00 81.25 705.76 80.10 706.46 C 78.82 707.33 78.48 709.93 79.40 711.95 C 80.56 714.27 83.57 715.83 87.61 716.98 L 96.87 719.30 C 101.49 720.45 105.54 721.61 107.86 723.52 C 109.01 724.50 109.47 725.43 109.01 725.83 C 108.55 724.39 106.70 724.27 106.12 725.54 C 105.54 726.99 106.99 727.97 108.43 727.74 C 110.17 727.39 111.09 725.83 110.86 724.10 C 110.63 721.78 109.01 720.05 106.70 718.72 C 104.39 717.56 101.49 716.58 96.87 715.25 L 88.77 713.51 C 85.30 712.70 82.12 712.24 80.79 710.39 C 80.67 709.81 81.25 709.58 81.95 709.81 C 83.10 710.04 83.80 708.89 83.33 707.15 Z" fill="#000"/>
<path d="M 88.48 710.85 L 88.48 720.34" stroke="#000" stroke-width="1.5" stroke-linecap="round" fill="none"/>
<path d="M 98.31 709.35 C 96.29 708.48 94.84 707.04 96.00 705.59 C 97.45 703.86 104.39 703.57 109.01 701.83 C 111.90 700.67 111.90 698.94 108.43 698.25" stroke="#000" stroke-width="1.35" stroke-linecap="round" fill="none"/>
<path d="M 102.36 704.14 L 111.79 709.23" stroke="#000" stroke-width="1.5" stroke-linecap="round" fill="none"/>
<g transform="translate(103.1,0) rotate(-90)">
<text x="-690.3" y="0" class="serif ttl">(renormalized) + constant</text>
</g>
</svg>
</body></html>
